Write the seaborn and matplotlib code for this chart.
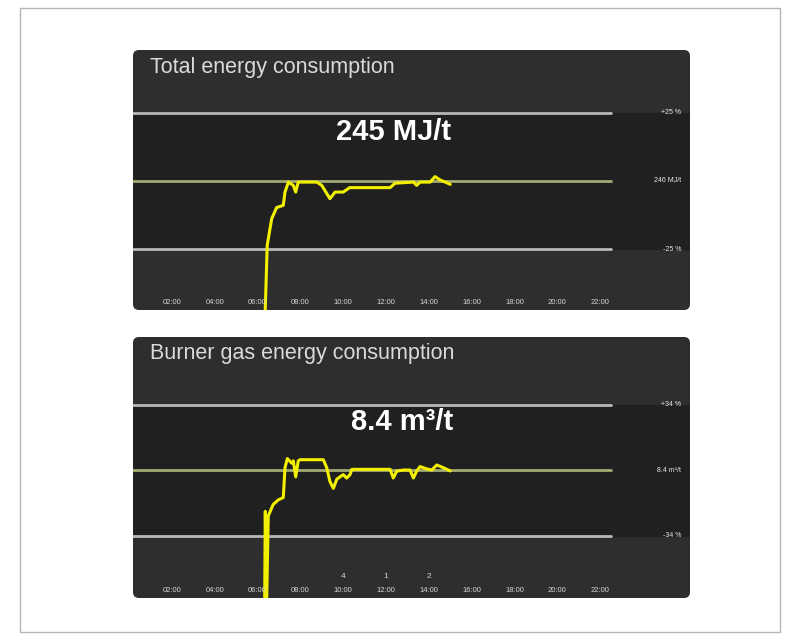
import numpy as np
import pandas as pd
import matplotlib
matplotlib.use("Agg")
import matplotlib.pyplot as plt
from matplotlib.patches import FancyBboxPatch, Rectangle
import seaborn as sns

sns.set_style("white")
plt.rcParams['font.family'] = ['Liberation Sans', 'DejaVu Sans']

# time axis ticks (hours)
tick_hours = [2, 4, 6, 8, 10, 12, 14, 16, 18, 20, 22]
tick_labels = ["02:00", "04:00", "06:00", "08:00", "10:00", "12:00",
               "14:00", "16:00", "18:00", "20:00", "22:00"]

# total energy consumption (MJ/t)
top_title = "Total energy consumption"
top_current = "245 MJ/t"
top_target = 246
top_band = 0.25
top_labels = ["+25 %", "246 MJ/t", "-25 %"]
top_hours = [6.35, 6.45, 6.66, 6.89, 7.2, 7.28, 7.44, 7.67, 7.78, 7.9, 8.76,
             9.0, 9.38, 9.62, 10.0, 10.3, 10.94, 12.19, 12.42, 13.28, 13.43,
             13.59, 14.06, 14.29, 14.52, 14.76, 15.0]
top_vals = [125, 188, 212, 222, 224, 236, 245, 242, 236, 245, 245,
            242, 230, 236, 236, 240, 240, 240, 244, 245, 242,
            245, 245, 250, 247, 245, 243]

# burner gas energy consumption (m3/t)
bot_title = "Burner gas energy consumption"
bot_current = "8.4 m³/t"
bot_target = 8.4
bot_band = 0.34
bot_labels = ["+34 %", "8.4 m³/t", "-34 %"]
bot_hours = [6.33, 6.36, 6.42, 6.50, 6.73, 6.97, 7.20, 7.28, 7.39, 7.59,
             7.67, 7.78, 7.90, 7.98, 9.07, 9.23, 9.38, 9.54, 9.70, 10.0,
             10.16, 10.32, 10.40, 10.94, 12.19, 12.34, 12.50, 12.81, 13.12, 13.28,
             13.43, 13.59, 13.90, 14.14, 14.37, 14.68, 15.0]
bot_vals = [2.5, 6.6, 2.5, 6.4, 6.9, 7.1, 7.2, 8.5, 8.9, 8.7,
            8.8, 8.1, 8.8, 8.85, 8.85, 8.5, 7.9, 7.6, 8.0, 8.2,
            8.05, 8.2, 8.43, 8.43, 8.43, 8.05, 8.35, 8.4, 8.4, 8.05,
            8.35, 8.55, 8.45, 8.4, 8.62, 8.5, 8.36]
bot_events = {10: "4", 12: "1", 14: "2"}

W, H = 801, 641
fig = plt.figure(figsize=(W / 100, H / 100), dpi=100)
fig.patch.set_facecolor("white")

# outer frame
fig.add_artist(Rectangle((20 / W, 1 - 632 / H), 760 / W, 624 / H,
                         transform=fig.transFigure, fill=False,
                         edgecolor="#b5b5b5", linewidth=1))


def panel(box, title, target, band, labels, hours, vals, ylim, events=None):
    x0, y0, x1, y1 = box
    rect = [x0 / W, 1 - y1 / H, (x1 - x0) / W, (y1 - y0) / H]
    fig.add_artist(FancyBboxPatch((rect[0] * W / 100, rect[1] * H / 100),
                                  rect[2] * W / 100, rect[3] * H / 100,
                                  boxstyle="round,pad=0,rounding_size=0.06",
                                  transform=fig.dpi_scale_trans,
                                  facecolor="#2e2e2e", edgecolor="none", zorder=0))
    ax = fig.add_axes(rect)
    ax.patch.set_visible(False)
    for s in ax.spines.values():
        s.set_visible(False)
    ax.set_xlim(0.18, 26.2)
    ax.set_ylim(*ylim)
    hi, lo = target * (1 + band), target * (1 - band)
    ax.axhspan(lo, hi, color="#202020", zorder=1)
    ax.plot([0.18, 22.5], [hi, hi], color="#b8b8b8", lw=2, zorder=2)
    ax.plot([0.18, 22.5], [lo, lo], color="#b8b8b8", lw=2, zorder=2)
    ax.plot([0.18, 22.5], [target, target], color="#a3ab72", lw=2, zorder=2)
    for yv, lab in zip([hi, target, lo], labels):
        ax.text(25.8, yv, lab, color="#e8e8e8", fontsize=5, ha="right",
                va="center", zorder=4)

    df = pd.DataFrame({"hour": hours, "value": vals})
    sns.lineplot(data=df, x="hour", y="value", ax=ax, color="#f2f000",
                 linewidth=2.2, zorder=3, sort=False)

    ax.set_xticks([])
    ax.set_yticks([])
    ax.set_xlabel("")
    ax.set_ylabel("")
    tr = ax.get_xaxis_transform()
    for h, lab in zip(tick_hours, tick_labels):
        ax.text(h, 7 / (y1 - y0), lab, transform=tr, color="#d5d5d5",
                fontsize=5.5, ha="center", va="center", zorder=4)
    if events:
        for h, lab in events.items():
            ax.text(h, 22 / (y1 - y0), lab, transform=tr, color="#d5d5d5",
                    fontsize=6, ha="center", va="center", zorder=4)
    ax.text(17 / (x1 - x0), 1 - 17 / (y1 - y0), title, transform=ax.transAxes,
            color="#dadada", fontsize=15.5, ha="left", va="center", zorder=4)
    return ax


ax1 = panel((133, 50, 690, 310), top_title, top_target, top_band,
            top_labels, top_hours, top_vals, (129.4, 364.4))
ax1.text(12.33, 290.3, top_current, color="white", fontsize=21,
         fontweight="bold", ha="center", va="center", zorder=4)

ax2 = panel((133, 337, 690, 598), bot_title, bot_target, bot_band,
            bot_labels, bot_hours, bot_vals, (2.82, 14.2), bot_events)
ax2.text(12.75, 10.49, bot_current, color="white", fontsize=21,
         fontweight="bold", ha="center", va="center", zorder=4)

fig.savefig("out.png", dpi=100, facecolor="white")
